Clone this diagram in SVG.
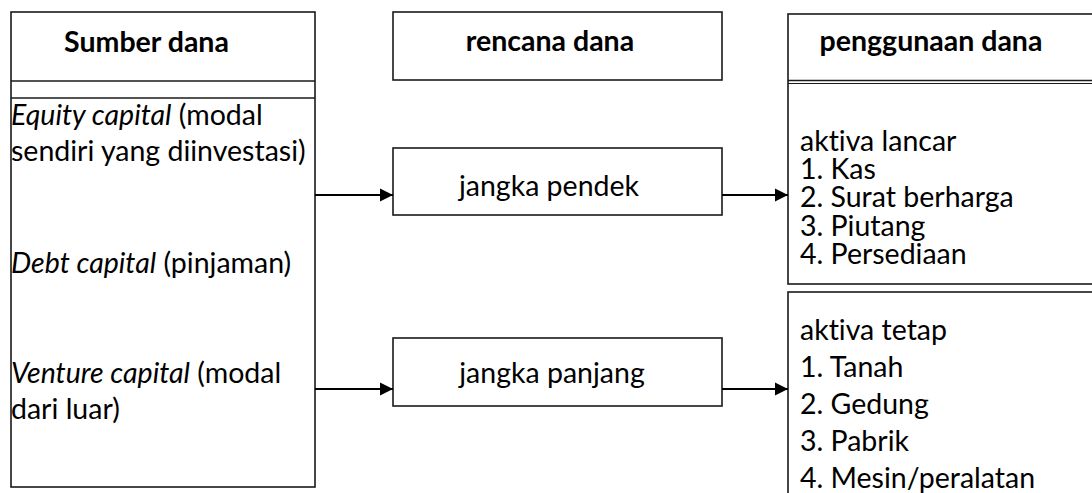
<svg xmlns="http://www.w3.org/2000/svg" width="1092" height="493" viewBox="0 0 1092 493">
<style>
.box{fill:#fff;stroke:#1a1a1a;stroke-width:1.6}
.sep{stroke:#1a1a1a;stroke-width:1.6;fill:none}
.t{font-family:Lato,"Open Sans",sans-serif;font-size:28.5px;fill:#000;font-variant-ligatures:none}
.b{font-weight:bold}
.i{font-style:italic}
.conn{stroke:#000;stroke-width:1.8;fill:none}
</style>
<defs>
<marker id="arr" markerWidth="14" markerHeight="14" refX="13" refY="7" orient="auto" markerUnits="userSpaceOnUse">
<path d="M0,0.5 L13,7 L0,13.5 Z" fill="#000"/>
</marker>
</defs>
<rect width="1092" height="493" fill="#fff"/>
<g id="sumber">
<rect class="box" x="11" y="12" width="304" height="475"/>
<line class="sep" x1="11" y1="81" x2="315" y2="81"/>
<line class="sep" x1="11" y1="98" x2="315" y2="98"/>
<text class="t b" x="146.5" y="52" text-anchor="middle">Sumber dana</text>
<text class="t" x="11" y="125"><tspan class="i">Equity capital</tspan> (modal</text>
<text class="t" x="11" y="161">sendiri yang diinvestasi)</text>
<text class="t" x="11" y="273"><tspan class="i">Debt capital</tspan> (pinjaman)</text>
<text class="t" x="11" y="383"><tspan class="i">Venture capital</tspan> (modal</text>
<text class="t" x="11" y="419">dari luar)</text>
</g>
<g id="rencana">
<rect class="box" x="393" y="12" width="329" height="68"/>
<text class="t b" x="550" y="51" text-anchor="middle">rencana dana</text>
</g>
<g id="pendek">
<rect class="box" x="393" y="148" width="329" height="67"/>
<text class="t" x="549" y="196" text-anchor="middle">jangka pendek</text>
</g>
<g id="panjang">
<rect class="box" x="393" y="338" width="329" height="68"/>
<text class="t" x="552" y="383" text-anchor="middle">jangka panjang</text>
</g>
<g id="penggunaan">
<rect class="box" x="788" y="14" width="320" height="270"/>
<line class="sep" x1="788" y1="80.5" x2="1100" y2="80.5"/>
<line class="sep" x1="788" y1="83.5" x2="1100" y2="83.5" style="stroke-width:1"/>
<text class="t b" x="931" y="51" text-anchor="middle">penggunaan dana</text>
<text class="t" x="800" y="151">aktiva lancar</text>
<text class="t" x="800" y="179">1. Kas</text>
<text class="t" x="800" y="207">2. Surat berharga</text>
<text class="t" x="800" y="236">3. Piutang</text>
<text class="t" x="800" y="264">4. Persediaan</text>
</g>
<g id="tetap">
<rect class="box" x="788" y="292" width="320" height="220"/>
<text class="t" x="800" y="340">aktiva tetap</text>
<text class="t" x="800" y="377">1. Tanah</text>
<text class="t" x="800" y="414">2. Gedung</text>
<text class="t" x="800" y="451">3. Pabrik</text>
<text class="t" x="800" y="488">4. Mesin/peralatan</text>
</g>
<g id="connectors">
<line class="conn" x1="315" y1="195" x2="393" y2="195" marker-end="url(#arr)"/>
<line class="conn" x1="722" y1="195" x2="788" y2="195" marker-end="url(#arr)"/>
<line class="conn" x1="315" y1="389" x2="393" y2="389" marker-end="url(#arr)"/>
<line class="conn" x1="722" y1="389" x2="788" y2="389" marker-end="url(#arr)"/>
</g>
</svg>
